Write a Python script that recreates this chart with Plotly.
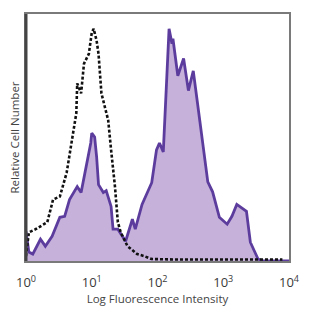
import plotly.graph_objects as go

# log10 fluorescence positions and relative counts (0-100)
stained_log = [0.0, 0.044, 0.103, 0.22, 0.294, 0.397, 0.515, 0.588, 0.662, 0.735, 0.779, 0.838,
               0.882, 0.926, 0.985, 1.0, 1.044, 1.074, 1.103, 1.176, 1.22, 1.294, 1.324, 1.397,
               1.515, 1.618, 1.662, 1.765, 1.912, 1.985, 2.03, 2.088, 2.176, 2.22, 2.235, 2.309,
               2.397, 2.47, 2.544, 2.603, 2.676, 2.765, 2.838, 2.941, 3.059, 3.132, 3.206, 3.309,
               3.353, 3.412, 3.529, 3.6, 4.0]
stained_cnt = [12.0, 3.6, 2.8, 8.8, 6.0, 10.0, 17.7, 18.1, 24.9, 28.1, 30.1, 27.7,
               34.1, 39.8, 47.8, 51.8, 50.2, 42.2, 30.9, 27.7, 28.5, 22.1, 12.9, 12.9,
               8.0, 16.9, 12.9, 22.9, 31.7, 45.0, 47.8, 44.2, 94.0, 88.0, 90.0, 75.0,
               82.0, 69.0, 77.0, 65.0, 49.0, 32.0, 28.0, 17.7, 14.9, 18.1, 22.9, 20.9,
               20.1, 7.6, 0.8, 0.0, 0.0]

control_log = [0.0, 0.044, 0.147, 0.324, 0.412, 0.515, 0.618, 0.691, 0.765, 0.779, 0.838, 0.882,
               0.956, 1.0, 1.029, 1.074, 1.103, 1.147, 1.206, 1.25, 1.294, 1.353, 1.397, 1.441,
               1.544, 1.691, 1.794, 1.91, 2.3, 2.8, 3.3, 3.9]
control_cnt = [2.0, 11.6, 12.9, 15.7, 24.9, 26.1, 35.7, 47.8, 59.8, 71.9, 67.9, 79.9,
               83.9, 92.4, 94.0, 89.2, 83.9, 67.9, 62.2, 57.0, 45.0, 30.1, 15.7, 11.6,
               6.0, 2.8, 2.0, 0.8, 0.6, 0.6, 0.6, 0.6]

tick_vals = [1, 10, 100, 1000, 10000]
tick_text = ["10<sup>0</sup>", "10<sup>1</sup>", "10<sup>2</sup>", "10<sup>3</sup>", "10<sup>4</sup>"]

fig = go.Figure()
fig.add_trace(go.Scatter(
    x=[10 ** v for v in stained_log], y=stained_cnt, mode="lines",
    line=dict(color="#5c3d9e", width=2.8), fill="tozeroy", fillcolor="#c6b1db",
    showlegend=False))
fig.add_trace(go.Scatter(
    x=[10 ** v for v in control_log], y=control_cnt, mode="lines",
    line=dict(color="#111111", width=2.6, dash="3px,2px"),
    showlegend=False))

fig.add_shape(type="line", xref="paper", yref="paper", x0=0, x1=0, y0=0, y1=1,
              line=dict(color="#444444", width=3))

fig.update_layout(
    width=312, height=312,
    margin=dict(l=26, r=16, t=12, b=49),
    paper_bgcolor="white", plot_bgcolor="white",
    font=dict(family="Open Sans", color="#444444"),
    xaxis=dict(type="log", range=[0, 4], tickvals=tick_vals, ticktext=tick_text,
               showgrid=False, zeroline=False, showline=True, mirror=True,
               linecolor="#7a7a7a", linewidth=1.5, ticks="",
               ticklabelstandoff=9,
               tickfont=dict(size=13, color="#3a3a3a"),
               title=dict(text="Log Fluorescence Intensity", font=dict(size=11.5, color="#444444"),
                          standoff=1)),
    yaxis=dict(range=[0, 100], showticklabels=False, showgrid=False, zeroline=False,
               showline=True, mirror=True, linecolor="#7a7a7a", linewidth=1.5, ticks="",
               title=dict(text="Relative Cell Number", font=dict(size=11.5, color="#444444"),
                          standoff=2)),
)

fig.write_html("out.html")
